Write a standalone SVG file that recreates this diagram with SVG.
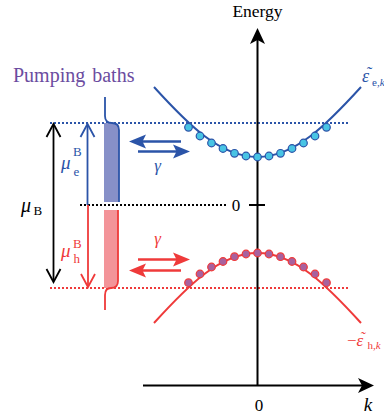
<svg xmlns="http://www.w3.org/2000/svg" width="384" height="414" viewBox="0 0 384 414">
<defs>
<path id="hl" d="M0,0 L17,-7 L13.5,0 L17,7 Z"/>
<path id="hr" d="M0,0 L-17,-7 L-13.5,0 L-17,7 Z"/>
</defs>
<rect width="384" height="414" fill="#fff"/>
<g id="levels" fill="none" stroke-width="2" stroke-dasharray="2 2">
<line stroke="#2b54a8" x1="50" y1="123" x2="348" y2="123"/>
<line stroke="#000" x1="80" y1="205" x2="226" y2="205"/>
<line stroke="#ef3a3a" x1="50" y1="288" x2="348" y2="288"/>
</g>
<g id="axes" stroke="#000" stroke-width="2" fill="none">
<line x1="257.5" y1="38" x2="257.5" y2="386"/>
<path d="M257.5,28 L265,44 L257.5,40 L250,44 Z" fill="#000" stroke="none"/>
<line x1="143" y1="385.5" x2="364" y2="385.5"/>
<path d="M374,385.5 L358,378 L362,385.5 L358,393 Z" fill="#000" stroke="none"/>
<line x1="249" y1="205" x2="265" y2="205"/>
</g>
<g id="axis-labels" font-family="Liberation Serif, serif" fill="#000">
<text font-family="Liberation Serif, serif" x="257.5" y="17" font-size="17.5" text-anchor="middle">Energy</text>
<text font-family="Liberation Serif, serif" x="236" y="211" font-size="17" text-anchor="middle">0</text>
<text font-family="Liberation Serif, serif" x="259" y="411" font-size="17" text-anchor="middle">0</text>
<text font-family="Liberation Serif, serif" font-style="italic" x="368" y="411" font-size="19" text-anchor="middle">k</text>
</g>
<g id="electron-band">
<path stroke="#2b54a8" fill="none" stroke-width="2" d="M154,87 C188,124.4 220,157 257.5,157 C295,157 327,124.4 361,87"/>
<g fill="#48c4e4" stroke="#2b54a8" stroke-width="1.2">
<circle cx="188.5" cy="127.3" r="3.8"/>
<circle cx="200" cy="136" r="3.8"/>
<circle cx="211.5" cy="143" r="3.8"/>
<circle cx="223" cy="148.5" r="3.8"/>
<circle cx="234.5" cy="153.3" r="3.8"/>
<circle cx="246" cy="156" r="3.8"/>
<circle cx="257.5" cy="157" r="3.8"/>
<circle cx="269" cy="156" r="3.8"/>
<circle cx="280.5" cy="153.3" r="3.8"/>
<circle cx="292" cy="148.5" r="3.8"/>
<circle cx="303.5" cy="143" r="3.8"/>
<circle cx="315" cy="136" r="3.8"/>
<circle cx="326.5" cy="127.3" r="3.8"/>
</g>
<text font-family="Liberation Serif, serif" font-style="italic" x="362" y="82" font-size="18" fill="#2b54a8">ε</text>
<text font-family="Liberation Serif, serif" font-style="italic" x="366" y="78" font-size="16" fill="#2b54a8">˜</text>
<text font-family="Liberation Serif, serif" x="372" y="86" font-size="11" fill="#2b54a8">e,<tspan font-style="italic">k</tspan></text>
</g>
<g id="hole-band">
<path stroke="#ef3a3a" fill="none" stroke-width="2" d="M154,323 C188,285.6 220,253 257.5,253 C295,253 327,285.6 361,323"/>
<g fill="#a8619e" stroke="#ef3a3a" stroke-width="1.2">
<circle cx="188.5" cy="282.7" r="3.8"/>
<circle cx="200" cy="274" r="3.8"/>
<circle cx="211.5" cy="267" r="3.8"/>
<circle cx="223" cy="261.5" r="3.8"/>
<circle cx="234.5" cy="256.7" r="3.8"/>
<circle cx="246" cy="254" r="3.8"/>
<circle cx="257.5" cy="253" r="3.8"/>
<circle cx="269" cy="254" r="3.8"/>
<circle cx="280.5" cy="256.7" r="3.8"/>
<circle cx="292" cy="261.5" r="3.8"/>
<circle cx="303.5" cy="267" r="3.8"/>
<circle cx="315" cy="274" r="3.8"/>
<circle cx="326.5" cy="282.7" r="3.8"/>
</g>
<text font-family="Liberation Serif, serif" x="347" y="346" font-size="17" fill="#ef3a3a">−<tspan font-style="italic">ε</tspan></text>
<text font-family="Liberation Serif, serif" font-style="italic" x="360" y="342" font-size="15" fill="#ef3a3a">˜</text>
<text font-family="Liberation Serif, serif" x="367.5" y="349" font-size="11" fill="#ef3a3a">h,<tspan font-style="italic">k</tspan></text>
</g>
<g id="pumping-baths">
<text font-family="Liberation Serif, serif" x="13" y="82" font-size="20" fill="#6b4ca0" word-spacing="2">Pumping baths</text>
<path d="M104,123 L112,123 C117,123 119,125 119,130 L119,202 L104,202 Z" fill="#8790c8"/>
<path stroke="#2b54a8" fill="none" stroke-width="1.8" d="M105,97 L105,116 C105,121 107,123 112,123 C117,123 119,125 119,130 L119,202"/>
<path d="M104,210 L118,210 L118,281 C118,286 116,288 111,288 L104,288 Z" fill="#f39499"/>
<path stroke="#ef3a3a" fill="none" stroke-width="1.8" d="M118,210 L118,281 C118,286 116,288 111,288 C107,288 105,290 105,295 L105,310"/>
</g>
<g id="connectors" fill="none" stroke-width="1.8">
<g stroke="#000">
<line x1="53.5" y1="125" x2="53.5" y2="281"/>
<path d="M46.5,137 L53.5,124 L60.5,137"/>
<path d="M46.5,269 L53.5,282 L60.5,269"/>
</g>
<g stroke="#2b54a8">
<line x1="87.5" y1="125" x2="87.5" y2="205"/>
<path d="M80.5,137 L87.5,124 L94.5,137"/>
<line stroke-width="2.6" x1="142" y1="141.5" x2="181" y2="141.5"/>
<line stroke-width="2.6" x1="138" y1="151.5" x2="177" y2="151.5"/>
</g>
<use href="#hl" x="129" y="141.5" fill="#2b54a8"/>
<use href="#hr" x="190" y="151.5" fill="#2b54a8"/>
<g stroke="#ef3a3a">
<line x1="88" y1="205" x2="88" y2="286"/>
<path d="M81,274 L88,287 L95,274"/>
<line stroke-width="2.6" x1="138" y1="259.5" x2="177" y2="259.5"/>
<line stroke-width="2.6" x1="142" y1="270.5" x2="181" y2="270.5"/>
</g>
<use href="#hr" x="190" y="259.5" fill="#ef3a3a"/>
<use href="#hl" x="129" y="270.5" fill="#ef3a3a"/>
</g>
<g id="labels">
<text font-family="Liberation Serif, serif" font-style="italic" x="157.5" y="171" font-size="17" fill="#2b54a8" text-anchor="middle">γ</text>
<text font-family="Liberation Serif, serif" font-style="italic" x="157.5" y="244" font-size="17" fill="#ef3a3a" text-anchor="middle">γ</text>
<text font-family="Liberation Serif, serif" font-style="italic" x="61" y="169" font-size="19" fill="#2b54a8">μ</text>
<text font-family="Liberation Serif, serif" x="73" y="156" font-size="13" fill="#2b54a8">B</text>
<text font-family="Liberation Serif, serif" x="73.5" y="176" font-size="13" fill="#2b54a8">e</text>
<text font-family="Liberation Serif, serif" font-style="italic" x="61" y="257" font-size="19" fill="#ef3a3a">μ</text>
<text font-family="Liberation Serif, serif" x="73" y="248" font-size="13" fill="#ef3a3a">B</text>
<text font-family="Liberation Serif, serif" x="73.5" y="263" font-size="13" fill="#ef3a3a">h</text>
<text font-family="Liberation Serif, serif" font-style="italic" x="21" y="212" font-size="20" fill="#000">μ</text>
<text font-family="Liberation Serif, serif" x="33.5" y="215" font-size="13" fill="#000">B</text>
</g>
</svg>
